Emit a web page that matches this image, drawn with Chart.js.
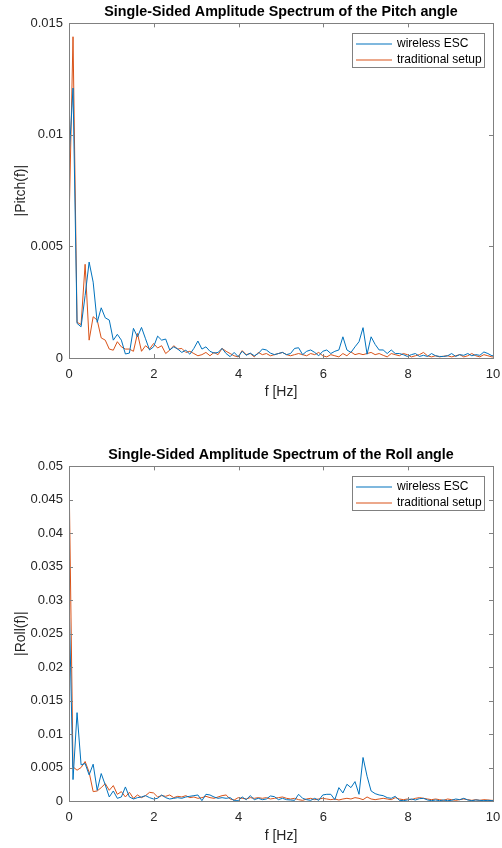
<!DOCTYPE html>
<html>
<head>
<meta charset="utf-8">
<script src="https://cdn.jsdelivr.net/npm/chart.js@4.4.1/dist/chart.umd.min.js"></script>
<style>
  html, body { margin: 0; padding: 0; background: #fff; }
  #wrap { position: relative; width: 502px; height: 848px; }
  #wrap canvas { position: absolute; left: 0; }
</style>
</head>
<body>
<div id="wrap">
  <canvas id="pitch" width="502" height="424" style="top:0"></canvas>
  <canvas id="roll" width="502" height="424" style="top:424px"></canvas>
</div>
<script>
// FFT bin spacing of the spectra (Hz)
const binHz = 0.095;

const xTicks = [0, 2, 4, 6, 8, 10];
const xTickLabels = ['0', '2', '4', '6', '8', '10'];

const pitchTicks = [0, 0.005, 0.01, 0.015];
const pitchTickLabels = ['0', '0.005', '0.01', '0.015'];

const rollTicks = [0, 0.005, 0.01, 0.015, 0.02, 0.025, 0.03, 0.035, 0.04, 0.045, 0.05];
const rollTickLabels = ['0', '0.005', '0.01', '0.015', '0.02', '0.025', '0.03', '0.035', '0.04', '0.045', '0.05'];

const seriesNames = ['wireless ESC', 'traditional setup'];
const seriesColors = ['#0072BD', '#D95319'];

// |Pitch(f)| single-sided amplitude, one value per bin
const pitchWireless = [
  0.0089, 0.0121, 0.00155, 0.0014, 0.0028, 0.0043, 0.0034, 0.0016, 0.00225, 0.0018,
  0.0017, 0.0008, 0.00106, 0.0008, 0.00018, 0.00022, 0.00133, 0.00095, 0.00137, 0.00086,
  0.00036, 0.0005, 0.00098, 0.0008, 0.00085, 0.00036, 0.0005, 0.0004, 0.00025, 0.00035,
  0.00017, 0.00043, 0.00076, 0.0004, 0.0005, 0.0003, 0.00022, 0.00025, 0.00043, 0.0002,
  0.00006, 0.00025, 0.00006, 0.0003, 0.00012, 0.00022, 0.0001, 0.0002, 0.0004, 0.00036,
  0.00022, 0.00015, 0.0002, 0.00025, 0.00015, 0.0002, 0.00043, 0.00046, 0.00015, 0.0003,
  0.00036, 0.00025, 0.0001, 0.0003, 0.00036, 0.0002, 0.0003, 0.00036, 0.00095, 0.00036,
  0.00025, 0.0005, 0.00073, 0.00136, 0.00017, 0.00095, 0.00061, 0.00036, 0.00036, 0.0002,
  0.00036, 0.0002, 0.0002, 0.00015, 0.00007, 0.00015, 0.0002, 0.00007, 0.00012, 0.00007,
  0.0002, 0.0001, 0.00007, 0.00007, 0.0001, 0.0002, 0.00007, 0.00015, 0.00012, 0.0002,
  0.0001, 0.00015, 0.00012, 0.00027, 0.0002, 0.0001, 0.00012
];
const pitchTraditional = [
  0.0059, 0.0144, 0.0016, 0.0015, 0.0042, 0.0008, 0.00185, 0.0017, 0.0009, 0.0008,
  0.0004, 0.00035, 0.00073, 0.0005, 0.0004, 0.0004, 0.0003, 0.0011, 0.0003, 0.00055,
  0.0004, 0.00065, 0.00045, 0.00055, 0.0002, 0.00035, 0.00055, 0.0004, 0.00043, 0.00025,
  0.0003, 0.0002, 0.0001, 0.00015, 0.00025, 0.0001, 0.00025, 0.00015, 0.00043, 0.0003,
  0.0002, 0.0001, 0.00005, 0.00033, 0.00015, 0.0002, 0.00005, 0.00025, 0.00015, 0.0002,
  0.0001, 0.00015, 0.0002, 0.00025, 0.00015, 0.0001, 0.00015, 0.0002, 0.00015, 0.0001,
  0.0002, 0.00015, 0.00025, 0.0001, 0.00005, 0.00015, 0.0001, 0.00005, 0.0002, 0.0001,
  0.00027, 0.00015, 0.0002, 0.00015, 0.0002, 0.00025, 0.00015, 0.0002, 0.00012, 0.00005,
  0.0002, 0.00015, 0.0001, 0.0002, 0.00015, 0.00005, 0.0001, 0.00015, 0.00025, 0.0001,
  0.00005, 0.0001, 0.00005, 0.00008, 0.0001, 0.00005, 0.0001, 0.00015, 0.00005, 0.0001,
  0.0002, 0.0001, 0.00005, 0.00015, 0.0001, 0.00005, 0.00005
];

// |Roll(f)| single-sided amplitude, one value per bin
const rollWireless = [
  0.031, 0.0032, 0.0132, 0.0054, 0.0056, 0.0039, 0.0055, 0.0016, 0.0041, 0.0024,
  0.0006, 0.0015, 0.0004, 0.0006, 0.0021, 0.0006, 0.0003, 0.0005, 0.0006, 0.0008,
  0.0005, 0.0003, 0.0004, 0.0009, 0.0005, 0.0003, 0.0004, 0.0005, 0.0004, 0.0006,
  0.0007, 0.0008, 0.0009, 0.00005, 0.001, 0.0009, 0.0006, 0.0004, 0.0005, 0.0004,
  0.0005, 0.00005, 0.00005, 0.0006, 0.0002, 0.0008, 0.0002, 0.0004, 0.0002, 0.0003,
  0.00075, 0.00065, 0.0002, 0.0004, 0.0002, 0.00015, 0.0001, 0.001, 0.0004, 0.0002,
  0.0001, 0.0004, 0.0001, 0.0009, 0.001, 0.001, 0.0002, 0.002, 0.0012, 0.0025,
  0.002, 0.0029, 0.001, 0.0065, 0.0037, 0.0015, 0.0011, 0.0009, 0.0008, 0.0005,
  0.0004, 0.0007, 0.0001, 0.00005, 0.00015, 0.0003, 0.00015, 0.00035, 0.0004, 0.00015,
  0.00005, 0.00015, 0.00005, 0.00015, 0.00005, 0.0001, 0.0003, 0.0002, 0.0004, 0.00015,
  0.00005, 0.00015, 0.0001, 0.00005, 0.0001, 0.00005, 0.00005
];
const rollTraditional = [
  0.0495, 0.0051, 0.0046, 0.005, 0.0059, 0.0043, 0.0014, 0.0015, 0.002, 0.0026,
  0.0016, 0.0023, 0.001, 0.0014, 0.0006, 0.0013, 0.0004, 0.0009, 0.0005, 0.0008,
  0.0013, 0.0012, 0.0006, 0.0008, 0.0007, 0.0009, 0.0005, 0.0007, 0.0006, 0.0008,
  0.0005, 0.0006, 0.0004, 0.0005, 0.0007, 0.0005, 0.0004, 0.0006, 0.0008, 0.0009,
  0.0003, 0.00015, 0.0005, 0.0004, 0.0003, 0.0005, 0.0004, 0.0005, 0.0004, 0.0005,
  0.0003, 0.0004, 0.0005, 0.0006, 0.0004, 0.0003, 0.0004, 0.0002, 0.0001, 0.0003,
  0.0004, 0.0002, 0.0003, 0.0004, 0.0003, 0.0002, 0.0003, 0.00015, 0.0003, 0.0004,
  0.0003, 0.0005, 0.0004, 0.0002, 0.0006, 0.0003, 0.0002, 0.0003, 0.0004, 0.0003,
  0.0002, 0.0005, 0.0003, 0.0002, 0.0003, 0.0002, 0.0004, 0.0005, 0.0004, 0.0003,
  0.0002, 0.0003, 0.0002, 0.0001, 0.0003, 0.0002, 0.0001, 0.0002, 0.0003, 0.0002,
  0.0001, 0.0002, 0.0001, 0.0002, 0.00015, 0.0001, 0.0001
];

const FONT = '"Liberation Sans", Arial, Helvetica, sans-serif';
Chart.defaults.font.family = FONT;
Chart.defaults.font.size = 13;
Chart.defaults.color = '#262626';

const AXIS_GREY = '#808080';

// Axes box with inward tick marks on all four sides
const boxAxes = {
  id: 'boxAxes',
  afterDatasetsDraw(chart) {
    const { ctx, chartArea: a, scales: { x, y } } = chart;
    const len = 4;
    ctx.save();
    ctx.strokeStyle = AXIS_GREY;
    ctx.lineWidth = 1;
    ctx.beginPath();
    x.ticks.forEach(t => {
      const px = Math.round(x.getPixelForValue(t.value)) + 0.5;
      ctx.moveTo(px, a.bottom); ctx.lineTo(px, a.bottom - len);
      ctx.moveTo(px, a.top); ctx.lineTo(px, a.top + len);
    });
    y.ticks.forEach(t => {
      const py = Math.round(y.getPixelForValue(t.value)) + 0.5;
      ctx.moveTo(a.left, py); ctx.lineTo(a.left + len, py);
      ctx.moveTo(a.right, py); ctx.lineTo(a.right - len, py);
    });
    ctx.stroke();
    ctx.strokeRect(Math.round(a.left) + 0.5, Math.round(a.top) + 0.5,
                   Math.round(a.right - a.left), Math.round(a.bottom - a.top));
    ctx.restore();
  }
};

// Boxed legend in the upper-right corner of the plot area
const boxLegend = {
  id: 'boxLegend',
  afterDraw(chart) {
    const { ctx, chartArea: a } = chart;
    const w = 132, h = 34;
    const left = Math.round(a.right - 9 - w), top = Math.round(a.top + 10);
    ctx.save();
    ctx.fillStyle = '#fff';
    ctx.fillRect(left, top, w, h);
    ctx.strokeStyle = AXIS_GREY;
    ctx.lineWidth = 1;
    ctx.strokeRect(left + 0.5, top + 0.5, w, h);
    ctx.font = '12px ' + FONT;
    ctx.textBaseline = 'middle';
    chart.data.datasets.forEach((ds, i) => {
      const cy = top + 10 + i * 16;
      ctx.strokeStyle = seriesColors[i];
      ctx.lineWidth = 1.2;
      ctx.beginPath();
      ctx.moveTo(left + 4, cy + 1);
      ctx.lineTo(left + 40, cy + 1);
      ctx.stroke();
      ctx.fillStyle = '#000';
      ctx.fillText(ds.label, left + 45, cy + 1);
    });
    ctx.restore();
  }
};

function toPoints(values) {
  return values.map((v, i) => ({ x: i * binHz, y: v }));
}

function spectrumChart(id, cfg) {
  return new Chart(document.getElementById(id), {
    type: 'line',
    data: {
      datasets: [
        { label: seriesNames[0], data: toPoints(cfg.wireless), borderColor: seriesColors[0] },
        { label: seriesNames[1], data: toPoints(cfg.traditional), borderColor: seriesColors[1] }
      ]
    },
    options: {
      responsive: false,
      animation: false,
      devicePixelRatio: 1,
      layout: { padding: { left: 0, right: 9, top: 0, bottom: 0 } },
      elements: {
        line: { borderWidth: 1, tension: 0, fill: false },
        point: { radius: 0, hoverRadius: 0 }
      },
      plugins: {
        legend: { display: false },
        tooltip: { enabled: false },
        title: {
          display: true,
          text: cfg.title,
          fullSize: false,
          color: '#000',
          font: { size: 14.3, weight: 'bold' },
          padding: { top: cfg.titleTop, bottom: 3 }
        }
      },
      scales: {
        x: {
          type: 'linear',
          min: 0,
          max: 10,
          grid: { display: false, drawTicks: false },
          border: { display: false },
          afterBuildTicks: s => { s.ticks = xTicks.map(v => ({ value: v })); },
          afterFit: s => {
            s.height = cfg.xHeight;
            s.paddingLeft = 0;
            s.paddingRight = 0;
          },
          ticks: {
            autoSkip: false,
            maxRotation: 0,
            padding: 9,
            callback: (v, i) => xTickLabels[i]
          },
          title: {
            display: true,
            text: 'f [Hz]',
            font: { size: 14 },
            padding: { top: 0, bottom: cfg.xTitleBottom }
          }
        },
        y: {
          min: 0,
          max: cfg.yTicks[cfg.yTicks.length - 1],
          grid: { display: false, drawTicks: false },
          border: { display: false },
          afterBuildTicks: s => { s.ticks = cfg.yTicks.map(v => ({ value: v })); },
          afterFit: s => {
            s.width = 69;
            s.paddingTop = 0;
            s.paddingBottom = 0;
          },
          ticks: {
            autoSkip: false,
            padding: 6,
            callback: (v, i) => cfg.yLabels[i]
          },
          title: {
            display: true,
            text: cfg.yTitle,
            font: { size: 14 },
            padding: { top: 12.6, bottom: 0 }
          }
        }
      }
    },
    plugins: [boxAxes, boxLegend]
  });
}

spectrumChart('pitch', {
  title: 'Single-Sided Amplitude Spectrum of the Pitch angle',
  yTitle: '|Pitch(f)|',
  wireless: pitchWireless,
  traditional: pitchTraditional,
  yTicks: pitchTicks,
  yLabels: pitchTickLabels,
  titleTop: 3.2,
  xHeight: 66,
  xTitleBottom: 23.6
});

spectrumChart('roll', {
  title: 'Single-Sided Amplitude Spectrum of the Roll angle',
  yTitle: '|Roll(f)|',
  wireless: rollWireless,
  traditional: rollTraditional,
  yTicks: rollTicks,
  yLabels: rollTickLabels,
  titleTop: 22.2,
  xHeight: 47,
  xTitleBottom: 3.6
});
</script>
</body>
</html>
